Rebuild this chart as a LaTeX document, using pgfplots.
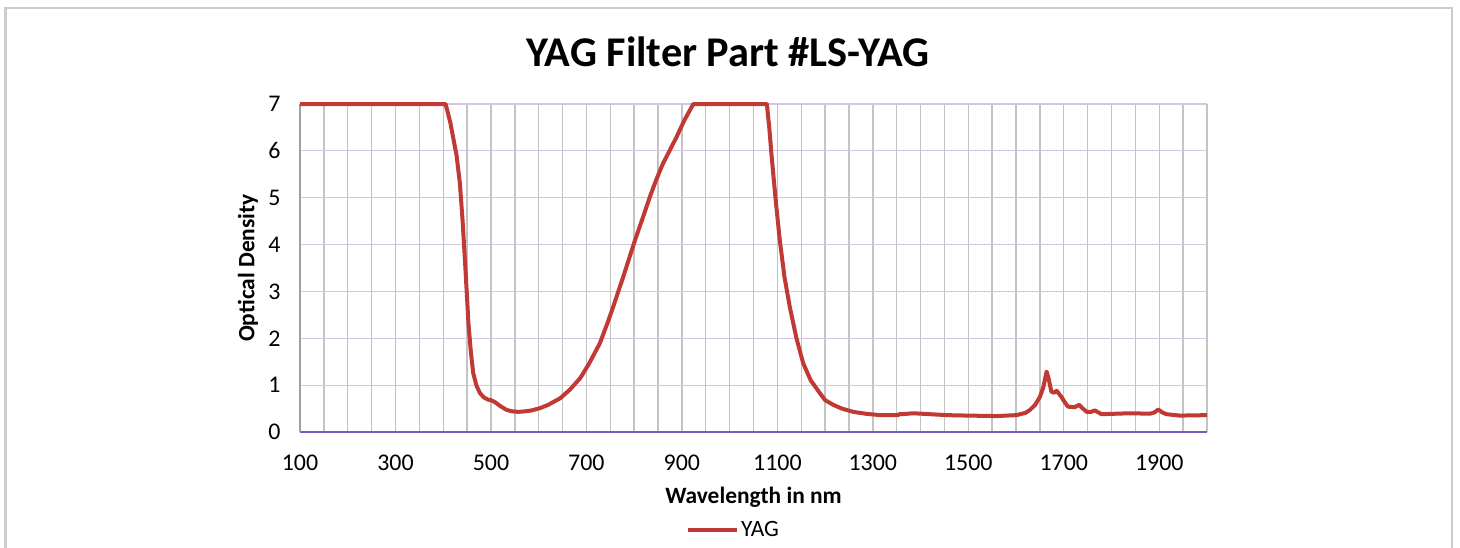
\documentclass[border=0pt]{standalone}
\usepackage{fontspec}
\setmainfont{Carlito}
\usepackage{pgfplots}
\pgfplotsset{compat=1.18}
\definecolor{curve}{RGB}{192,57,52}
\definecolor{vgrid}{RGB}{195,195,195}
\definecolor{hgrid}{RGB}{212,196,230}
\definecolor{xaxis}{RGB}{120,90,190}
\definecolor{yaxis}{RGB}{160,160,160}
\definecolor{frame}{RGB}{204,204,204}
\begin{document}
\begin{tikzpicture}
\useasboundingbox (-300bp,-116bp) rectangle (1160bp,432bp);
\begin{scope}
\clip (-300bp,-116bp) rectangle (1160bp,432bp);
\draw[frame, line width=2.5bp] (-294.5bp,-140bp) -- (-294.5bp,424bp) -- (1152bp,424bp) -- (1152bp,-140bp);
\end{scope}
\node[font=\fontsize{42.5}{42.5}\selectfont\bfseries] at (428bp,380bp) {YAG Filter Part \#LS-YAG};
\begin{axis}[
  at={(0,0)}, anchor=south west,
  scale only axis, width=907bp, height=328bp,
  xmin=100, xmax=2000, ymin=0, ymax=7,
  xtick={100,300,...,1900},
  minor xtick={150,200,...,2000},
  ytick={0,1,...,7},
  major tick length=0pt, minor tick length=0pt,
  xmajorgrids, xminorgrids, ymajorgrids,
  x grid style={vgrid, line width=1.4bp},
  minor x grid style={vgrid, line width=1.4bp},
  y grid style={hgrid, line width=1.2bp},
  axis x line*=bottom, axis y line*=left,
  separate axis lines,
  x axis line style={xaxis, line width=1.6bp, -},
  y axis line style={yaxis, line width=1.6bp, -},
  /pgf/number format/assume math mode=true,
  /pgf/number format/1000 sep={},
  ticklabel style={font=\fontsize{24}{24}\selectfont},
  xticklabel style={yshift=-19bp},
  yticklabel style={xshift=-16bp},
  xlabel={Wavelength in nm},
  ylabel={Optical Density},
  label style={font=\fontsize{23.5}{23.5}\selectfont\bfseries},
  xlabel style={at={(axis description cs:0.5,-0.198)}, anchor=center},
  ylabel style={at={(axis description cs:-0.0573,0.5)}, anchor=center},
  legend style={at={(0.478,-0.299)}, anchor=center, draw=none, fill=none,
    font=\fontsize{23.5}{23.5}\selectfont, inner sep=0pt},
  legend image code/.code={\draw[#1, line width=4bp] (0bp,0bp) -- (49bp,0bp);},
  legend cell align=left,
  clip=false,
]
\addplot[curve, line width=4bp, line join=round] coordinates {
(100,7) (405,7) (415,6.6) (428,5.9) (435,5.3) (441,4.45) (447,3.4) (453,2.3)
(458,1.7) (463,1.25) (470,0.98) (477,0.83) (485,0.74) (494,0.69) (500,0.68)
(508,0.64) (520,0.55) (533,0.47) (545,0.44) (557,0.43) (570,0.44) (585,0.46)
(603,0.51) (620,0.58) (645,0.72) (665,0.9) (687,1.15) (705,1.45) (728,1.89)
(745,2.35) (756,2.67) (777,3.31) (790,3.72) (802,4.10) (818,4.57) (833,5.02)
(845,5.35) (855,5.60) (860,5.72) (870,5.92) (889,6.30) (905,6.65) (924,7.0)
(1078,7.0) (1083,6.5) (1088,5.88) (1096,5.0) (1105,4.10) (1115,3.3) (1126,2.67)
(1140,2.0) (1154,1.47) (1170,1.1) (1189,0.83) (1200,0.68) (1217,0.58) (1235,0.50)
(1259,0.43) (1285,0.39) (1315,0.36) (1350,0.36) (1355,0.37) (1357,0.39) (1360,0.38)
(1385,0.40) (1420,0.38) (1455,0.36) (1500,0.35) (1559,0.34) (1601,0.36) (1620,0.41)
(1629,0.47) (1640,0.58) (1650,0.75) (1657,0.95) (1664,1.29) (1668,1.15) (1674,0.86)
(1680,0.84) (1685,0.88) (1695,0.75) (1703,0.62) (1709,0.54) (1723,0.53) (1732,0.58)
(1740,0.50) (1748,0.43) (1757,0.43) (1765,0.46) (1772,0.42) (1779,0.38) (1839,0.40)
(1881,0.39) (1890,0.42) (1898,0.48) (1906,0.42) (1915,0.38) (1943,0.35) (2000,0.36)
};
\addlegendentry{YAG}
\end{axis}
\end{tikzpicture}
\end{document}
